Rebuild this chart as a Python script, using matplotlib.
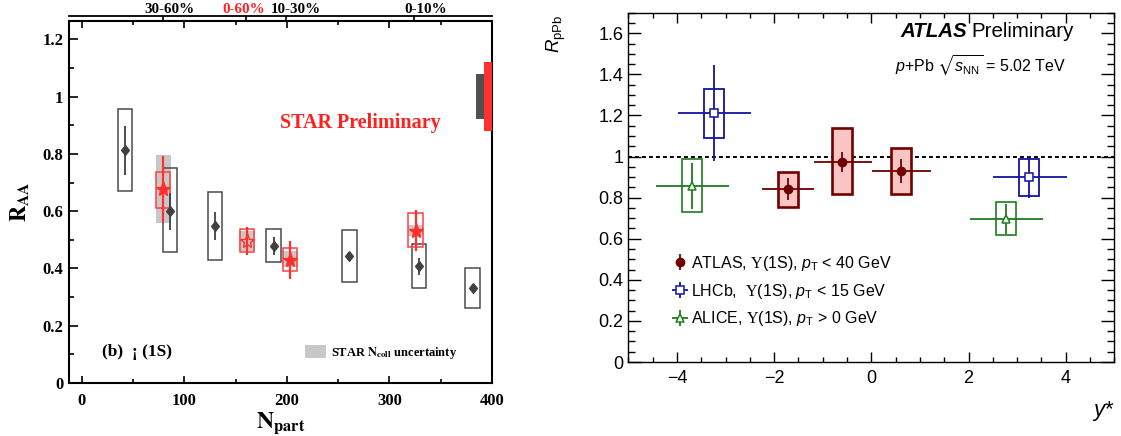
import matplotlib
matplotlib.use('Agg')
import matplotlib.pyplot as plt
from matplotlib.patches import Rectangle, Patch
from matplotlib.font_manager import FontProperties
from matplotlib.ticker import MultipleLocator, FormatStrFormatter
import matplotlib.transforms as mtransforms
import numpy as np

plt.rcParams['mathtext.fontset'] = 'custom'
plt.rcParams['mathtext.rm'] = 'Liberation Sans'
plt.rcParams['mathtext.it'] = 'Liberation Sans:italic'
plt.rcParams['mathtext.bf'] = 'Liberation Sans:bold'
plt.rcParams['mathtext.sf'] = 'Liberation Serif'
plt.rcParams['mathtext.fallback'] = 'stix'

# ---------------- Left panel data (R_AA vs Npart) ----------------
ref_npart = [42, 86, 130, 187, 261, 329, 381]
ref_raa = [0.812, 0.600, 0.548, 0.479, 0.443, 0.408, 0.332]
ref_stat = [0.084, 0.065, 0.048, 0.031, 0.015, 0.030, 0.012]
ref_sys_lo = [0.672, 0.458, 0.430, 0.421, 0.354, 0.330, 0.263]
ref_sys_hi = [0.955, 0.749, 0.666, 0.538, 0.534, 0.484, 0.400]

star_npart = [79.5, 161.3, 203, 325.5]
star_raa = [0.677, 0.496, 0.430, 0.532]
star_stat = [0.115, 0.048, 0.067, 0.071]
star_sys_lo = [0.612, 0.458, 0.391, 0.474]
star_sys_hi = [0.738, 0.537, 0.470, 0.592]
star_ncoll_lo = [0.558, 0.462, 0.405, 0.515]
star_ncoll_hi = [0.796, 0.532, 0.462, 0.552]
star_filled = [True, False, True, True]

centrality_pos = [79, 160, 199, 324]
centrality_labels = ['30-60%', '0-60%', '10-30%', '0-10%']
centrality_label_x = [86, 158, 209, 335]

global_ref = (0.921, 1.079)
global_star = (0.881, 1.120)

# ---------------- Right panel data (R_pPb vs y*) ----------------
atlas_y = [-1.71, -0.60, 0.61]
atlas_bin_lo = [-2.24, -1.18, 0.02]
atlas_bin_hi = [-1.18, 0.02, 1.23]
atlas_r = [0.842, 0.974, 0.929]
atlas_stat = [0.055, 0.049, 0.059]
atlas_sys_lo = [0.756, 0.817, 0.818]
atlas_sys_hi = [0.927, 1.137, 1.042]

lhcb_y = [-3.24, 3.25]
lhcb_bin_lo = [-3.98, 2.51]
lhcb_bin_hi = [-2.47, 4.02]
lhcb_r = [1.212, 0.901]
lhcb_stat = [0.232, 0.101]
lhcb_sys_lo = [1.091, 0.808]
lhcb_sys_hi = [1.330, 0.990]

alice_y = [-3.69, 2.78]
alice_bin_lo = [-4.44, 2.03]
alice_bin_hi = [-2.93, 3.54]
alice_r = [0.857, 0.696]
alice_stat = [0.113, 0.075]
alice_sys_lo = [0.730, 0.618]
alice_sys_hi = [0.989, 0.780]

legend_labels = ['ATLAS, $\\mathsf{\u03a5}$(1S), $p_{\\mathrm{T}}$ < 40 GeV',
                 'LHCb,  $\\mathsf{\u03a5}$(1S), $p_{\\mathrm{T}}$ < 15 GeV',
                 'ALICE, $\\mathsf{\u03a5}$(1S), $p_{\\mathrm{T}}$ > 0 GeV']

W, H = 1121, 436
fig = plt.figure(figsize=(W / 100, H / 100), dpi=100)

# ======================= LEFT PANEL =======================
serif_b = dict(family='Liberation Serif', weight='bold')
axL = fig.add_axes([69 / W, 1 - 383 / H, 423 / W, 362 / H])
axL.set_xlim(-12.4, 400)
axL.set_ylim(0, 1.264)

hw = 7.0
for x, lo, hi in zip(star_npart, star_ncoll_lo, star_ncoll_hi):
    axL.add_patch(Rectangle((x - hw - 0.5, lo), 2 * hw + 1, hi - lo,
                            facecolor='#c8c8c8', edgecolor='none', zorder=1))
for x, lo, hi in zip(ref_npart, ref_sys_lo, ref_sys_hi):
    axL.add_patch(Rectangle((x - hw, lo), 2 * hw, hi - lo, fill=False,
                            edgecolor='#4a4a4a', lw=1.1, zorder=2))
for x, lo, hi in zip(star_npart, star_sys_lo, star_sys_hi):
    axL.add_patch(Rectangle((x - hw, lo), 2 * hw, hi - lo, fill=False,
                            edgecolor='#ff4040', lw=1.1, zorder=3))

diamond = [(0, 1), (0.8, 0), (0, -1), (-0.8, 0), (0, 1)]
axL.errorbar(ref_npart, ref_raa, yerr=ref_stat, fmt='none', ecolor='#404040',
             elinewidth=1.3, zorder=4)
axL.plot(ref_npart, ref_raa, ls='none', marker=diamond, ms=7, color='#404040',
         mec='#404040', zorder=5)

axL.errorbar(star_npart, star_raa, yerr=star_stat, fmt='none', ecolor='#ff3030',
             elinewidth=1.6, zorder=6)
for x, y, f in zip(star_npart, star_raa, star_filled):
    axL.plot([x], [y], ls='none', marker='*', ms=11,
             mfc='#ff3030' if f else 'none', mec='#ff3030', mew=1.0, zorder=7)

axL.add_patch(Rectangle((384, global_ref[0]), 8, global_ref[1] - global_ref[0],
                        facecolor='#505050', edgecolor='none', zorder=3, clip_on=False))
axL.add_patch(Rectangle((392, global_star[0]), 8, global_star[1] - global_star[0],
                        facecolor='#ff3030', edgecolor='none', zorder=3, clip_on=False))

for s in axL.spines.values():
    s.set_linewidth(1.5)
axL.xaxis.set_major_locator(MultipleLocator(100))
axL.xaxis.set_minor_locator(MultipleLocator(50))
axL.yaxis.set_major_locator(MultipleLocator(0.2))
axL.yaxis.set_minor_locator(MultipleLocator(0.1))
axL.yaxis.set_major_formatter(FormatStrFormatter('%g'))
axL.tick_params(axis='x', which='major', direction='in', length=5, width=1.2,
                top=True, pad=7)
axL.tick_params(axis='x', which='minor', direction='in', length=3, width=1.2, top=True)
axL.tick_params(axis='y', which='major', direction='in', length=6.5, width=1.2, pad=4)
axL.tick_params(axis='y', which='minor', direction='in', length=3.5, width=1.2)
for lab in axL.get_xticklabels() + axL.get_yticklabels():
    lab.set_fontproperties(FontProperties(family='Liberation Serif', weight='bold', size=12))

axL.set_xlabel(r'$\mathbf{N}_{\mathbf{part}}$', fontsize=17, math_fontfamily='stix', labelpad=1)
axL.set_ylabel(r'$\mathbf{R}_{\mathbf{AA}}$', fontsize=16, math_fontfamily='stix', labelpad=8)

# top centrality axis (ticks) + labels placed as in the original
sec = axL.secondary_xaxis(1.014)
sec.set_xticks(centrality_pos, labels=[''] * len(centrality_pos))
sec.tick_params(direction='in', length=3, width=1.2, pad=2)
sec.spines['top'].set_linewidth(1.3)
for i, t in enumerate(sec.xaxis.get_major_ticks()):
    if centrality_labels[i] == '0-60%':
        t.tick2line.set_color('#ff2020')
        t.tick1line.set_color('#ff2020')
blend = mtransforms.blended_transform_factory(axL.transData, axL.transAxes)
for xl, lab in zip(centrality_label_x, centrality_labels):
    axL.text(xl, 1.0229, lab, transform=blend, ha='center', va='baseline',
             fontsize=10.8, color='#ff2020' if lab == '0-60%' else 'black',
             clip_on=False, **serif_b)

axL.text(0.688, 0.718, 'STAR Preliminary', transform=axL.transAxes, ha='center',
         va='center', color='#ff2020', fontsize=14.5, **serif_b)
axL.text(0.077, 0.087, '(b)  \u00a1 (1S)', transform=axL.transAxes, ha='left',
         va='center', fontsize=12.5, **serif_b)
axL.legend(handles=[Patch(facecolor='#c8c8c8', edgecolor='none')],
           labels=[r'STAR $\mathbf{N}_{\mathbf{coll}}$ uncertainty'],
           prop=FontProperties(family='Liberation Serif', weight='bold', size=9,
                               math_fontfamily='stix'),
           loc='center left', bbox_to_anchor=(0.557, 0.084), frameon=False,
           borderpad=0, borderaxespad=0, handlelength=1.7, handleheight=1.3,
           handletextpad=0.4)

# ======================= RIGHT PANEL =======================
sans = 'Liberation Sans'
axR = fig.add_axes([628.3 / W, 1 - 362 / H, 486 / W, 349.3 / H])
axR.set_xlim(-5, 5)
axR.set_ylim(0, 1.7)
c_atlas, f_atlas = '#700000', '#f8c4c4'
c_lhcb = '#1414a0'
c_alice = '#1e7d1e'
bw = 0.41

axR.axhline(1.0, color='black', lw=1.4, ls=(0, (2, 1.6)), zorder=1)

def boxes(ax, xs, lo, hi, ec, fc, lw):
    for x, l, h in zip(xs, lo, hi):
        ax.add_patch(Rectangle((x - bw / 2, l), bw, h - l, facecolor=fc,
                               edgecolor=ec, lw=lw, zorder=2))

boxes(axR, atlas_y, atlas_sys_lo, atlas_sys_hi, c_atlas, f_atlas, 1.9)
boxes(axR, lhcb_y, lhcb_sys_lo, lhcb_sys_hi, c_lhcb, 'none', 1.3)
boxes(axR, alice_y, alice_sys_lo, alice_sys_hi, c_alice, 'none', 1.2)

def xerr_of(c, lo, hi):
    c = np.asarray(c); return [c - np.asarray(lo), np.asarray(hi) - c]

axR.errorbar(atlas_y, atlas_r, yerr=atlas_stat, xerr=xerr_of(atlas_y, atlas_bin_lo, atlas_bin_hi),
             fmt='o', ms=6, color=c_atlas, elinewidth=1.3, capsize=0, zorder=4)
axR.errorbar(lhcb_y, lhcb_r, yerr=lhcb_stat, xerr=xerr_of(lhcb_y, lhcb_bin_lo, lhcb_bin_hi),
             fmt='s', ms=6, mfc='white', mec=c_lhcb, mew=1.1, color=c_lhcb,
             elinewidth=1.3, capsize=0, zorder=4)
axR.errorbar(alice_y, alice_r, yerr=alice_stat, xerr=xerr_of(alice_y, alice_bin_lo, alice_bin_hi),
             fmt='^', ms=6, mfc='white', mec=c_alice, mew=1.1, color=c_alice,
             elinewidth=1.3, capsize=0, zorder=4)

h1 = axR.errorbar([np.nan], [np.nan], yerr=[0.1], fmt='o', ms=6, color=c_atlas, elinewidth=1.3)
h2 = axR.errorbar([np.nan], [np.nan], yerr=[0.1], xerr=[0.1], fmt='s', ms=6, mfc='white',
                  mec=c_lhcb, mew=1.1, color=c_lhcb, elinewidth=1.3)
h3 = axR.errorbar([np.nan], [np.nan], yerr=[0.1], xerr=[0.1], fmt='^', ms=6, mfc='white',
                  mec=c_alice, mew=1.1, color=c_alice, elinewidth=1.3)
axR.legend(handles=[h1, h2, h3], labels=legend_labels,
           prop=FontProperties(family=sans, size=11.5),
           loc='center left', bbox_to_anchor=(0.092, 0.203), frameon=False,
           borderpad=0, borderaxespad=0, handlelength=0.9, handletextpad=0.2,
           labelspacing=0.55)

for s in axR.spines.values():
    s.set_linewidth(1.0)
axR.xaxis.set_major_locator(MultipleLocator(2))
axR.xaxis.set_minor_locator(MultipleLocator(0.5))
axR.yaxis.set_major_locator(MultipleLocator(0.2))
axR.yaxis.set_minor_locator(MultipleLocator(0.05))
axR.yaxis.set_major_formatter(FormatStrFormatter('%g'))
axR.tick_params(which='both', direction='in', top=True, right=True, width=1.0)
axR.tick_params(axis='x', which='major', length=7.2, pad=5.5)
axR.tick_params(axis='x', which='minor', length=3.6)
axR.tick_params(axis='y', which='major', length=9.4, pad=3.5)
axR.tick_params(axis='y', which='minor', length=5)
for lab in axR.get_xticklabels() + axR.get_yticklabels():
    lab.set_fontproperties(FontProperties(family=sans, size=13))

axR.text(-0.147, 0.995, r'$R_{\mathrm{pPb}}$', transform=axR.transAxes, rotation=90,
         ha='center', va='top', fontsize=13.5, family=sans)
axR.text(1.0, -0.14, r'$y$*', transform=axR.transAxes, ha='right', va='center',
         fontsize=16, family=sans)

t_atlas = axR.text(0.559, 0.931, 'ATLAS', transform=axR.transAxes, ha='left',
                   va='baseline', fontsize=14.8, family=sans, weight='bold', style='italic')
axR.annotate('Preliminary', xy=(1, 0), xycoords=t_atlas, xytext=(3.5, 0),
             textcoords='offset points', ha='left', va='bottom', fontsize=14.8, family=sans)
axR.text(0.548, 0.831, r'$p$+Pb $\sqrt{s_{\mathrm{NN}}}$ = 5.02 TeV', transform=axR.transAxes,
         ha='left', va='baseline', fontsize=11.5, family=sans)

fig.savefig('out.png', dpi=100)
